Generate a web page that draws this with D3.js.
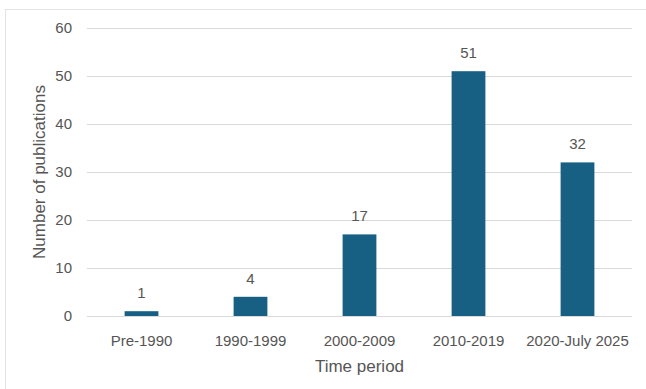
<!DOCTYPE html>
<html>
<head>
<meta charset="utf-8">
<script src="https://cdn.jsdelivr.net/npm/d3@7"></script>
<style>
  body { margin: 0; background: #fff; }
  text { font-family: "Liberation Sans", Arial, sans-serif; fill: #555; }
</style>
</head>
<body>
<script>
var periods = ["Pre-1990", "1990-1999", "2000-2009", "2010-2019", "2020-July 2025"];
var counts = [1, 4, 17, 51, 32];
var yTicks = [0, 10, 20, 30, 40, 50, 60];

var W = 646, H = 389;
var margin = { left: 87, right: 14, top: 28, bottom: 73 };
var width = W - margin.left - margin.right;
var height = H - margin.top - margin.bottom;

var root = d3.select("body").append("svg")
    .attr("width", W)
    .attr("height", H);

// faint chart frame
root.append("rect")
    .attr("x", 5.5).attr("y", 9.5)
    .attr("width", W).attr("height", H)
    .attr("fill", "none")
    .attr("stroke", "#e3e3e3");

var svg = root.append("g")
    .attr("transform", `translate(${margin.left}, ${margin.top})`);

var x = d3.scaleBand()
    .domain(periods)
    .range([0, width])
    .paddingInner(0.69)
    .paddingOuter(0.345);

var y = d3.scaleLinear()
    .domain([0, 60])
    .range([height, 0]);

// gridlines
svg.selectAll("line.grid")
    .data(yTicks)
    .enter()
    .append("line")
    .attr("class", "grid")
    .attr("x1", 0)
    .attr("x2", width)
    .attr("y1", d => Math.round(y(d)) + 0.5)
    .attr("y2", d => Math.round(y(d)) + 0.5)
    .attr("stroke", "#d9d9d9")
    .attr("stroke-width", 1);

// y tick labels
svg.selectAll("text.ytick")
    .data(yTicks)
    .enter()
    .append("text")
    .attr("class", "ytick")
    .attr("x", -15)
    .attr("y", d => y(d))
    .attr("dy", "0.35em")
    .attr("text-anchor", "end")
    .style("font-size", "15px")
    .text(d => d);

// bars
svg.selectAll("rect.bar")
    .data(counts)
    .enter()
    .append("rect")
    .attr("class", "bar")
    .attr("x", (d, i) => x(periods[i]))
    .attr("y", d => y(d))
    .attr("width", x.bandwidth())
    .attr("height", d => height - y(d))
    .attr("fill", "#176084");

// value labels
svg.selectAll("text.val")
    .data(counts)
    .enter()
    .append("text")
    .attr("class", "val")
    .attr("x", (d, i) => x(periods[i]) + x.bandwidth() / 2)
    .attr("y", d => y(d) - 13)
    .attr("text-anchor", "middle")
    .style("font-size", "15px")
    .text(d => d);

// category labels
svg.selectAll("text.cat")
    .data(periods)
    .enter()
    .append("text")
    .attr("class", "cat")
    .attr("x", d => x(d) + x.bandwidth() / 2)
    .attr("y", height + 30)
    .attr("text-anchor", "middle")
    .style("font-size", "15px")
    .text(d => d);

// axis titles
svg.append("text")
    .attr("x", width / 2)
    .attr("y", height + 56)
    .attr("text-anchor", "middle")
    .style("font-size", "17px")
    .text("Time period");

svg.append("text")
    .attr("x", -(height / 2))
    .attr("y", -42)
    .attr("transform", "rotate(-90)")
    .attr("text-anchor", "middle")
    .style("font-size", "17px")
    .text("Number of publications");
</script>
</body>
</html>
